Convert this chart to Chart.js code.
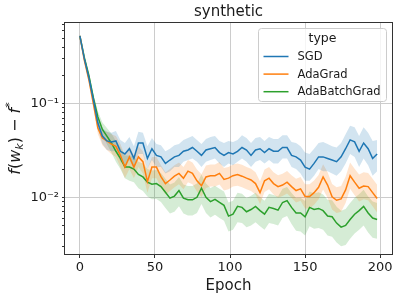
<!DOCTYPE html>
<html>
<head>
<meta charset="utf-8">
<script src="https://cdn.jsdelivr.net/npm/chart.js"></script>
<style>
  html, body { margin: 0; padding: 0; background: #fff; }
</style>
</head>
<body>
<canvas id="chart" width="399" height="299"></canvas>
<script>
const EPOCHS = [0,3,6,9,12,15,18,21,24,27,30,33,36,39,42,45,48,51,54,57,60,63,66,69,72,75,78,81,84,87,90,93,96,99,102,105,108,111,114,117,120,123,126,129,132,135,138,141,144,147,150,153,156,159,162,165,168,171,174,177,180,183,186,189,192,195,198];

const SERIES = ['SGD', 'AdaGrad', 'AdaBatchGrad'];

const SGD = [0.53,0.30,0.19,0.11,0.062,0.045,0.040,0.039,0.040,0.031,
  0.029,0.033,0.026,0.038,0.038,0.026,0.033,0.028,0.027,0.023,
  0.025,0.027,0.028,0.031,0.032,0.034,0.031,0.028,0.032,0.033,
  0.034,0.030,0.028,0.030,0.029,0.031,0.034,0.032,0.028,0.032,
  0.033,0.030,0.033,0.031,0.031,0.034,0.034,0.028,0.027,0.025,
  0.021,0.020,0.023,0.027,0.027,0.026,0.025,0.024,0.027,0.033,
  0.041,0.039,0.031,0.038,0.033,0.026,0.029];
const SGD_HI = [0.54,0.315,0.205,0.122,0.072,0.055,0.050,0.049,0.051,0.041,
  0.038,0.044,0.035,0.050,0.049,0.035,0.043,0.037,0.036,0.031,
  0.033,0.036,0.037,0.041,0.043,0.045,0.041,0.037,0.042,0.044,
  0.045,0.040,0.038,0.040,0.039,0.041,0.046,0.043,0.038,0.043,
  0.044,0.040,0.044,0.042,0.042,0.046,0.046,0.039,0.038,0.035,
  0.030,0.029,0.033,0.038,0.039,0.037,0.035,0.034,0.038,0.047,
  0.058,0.056,0.045,0.056,0.049,0.040,0.041];
const SGD_LO = [0.52,0.285,0.175,0.098,0.053,0.037,0.032,0.031,0.031,0.024,
  0.022,0.025,0.020,0.029,0.029,0.020,0.025,0.021,0.021,0.018,
  0.019,0.021,0.021,0.024,0.025,0.026,0.024,0.021,0.024,0.025,
  0.026,0.023,0.021,0.023,0.022,0.024,0.026,0.024,0.021,0.024,
  0.025,0.023,0.025,0.023,0.023,0.026,0.026,0.021,0.020,0.018,
  0.015,0.015,0.017,0.020,0.019,0.019,0.018,0.017,0.019,0.023,
  0.029,0.027,0.021,0.026,0.022,0.017,0.019];

const ADAGRAD = [0.53,0.29,0.18,0.10,0.055,0.043,0.040,0.037,0.035,0.028,
  0.021,0.027,0.021,0.027,0.024,0.0147,0.021,0.021,0.0166,0.014,
  0.0153,0.0168,0.018,0.016,0.019,0.018,0.015,0.0133,0.0165,0.017,
  0.017,0.018,0.0155,0.016,0.017,0.0175,0.0168,0.016,0.0153,0.014,
  0.0112,0.015,0.016,0.014,0.013,0.0135,0.0145,0.013,0.0118,0.0123,
  0.0102,0.0102,0.0112,0.0128,0.0165,0.0135,0.0101,0.0093,0.0096,0.012,
  0.017,0.0145,0.0125,0.0132,0.013,0.0112,0.0097];
const ADAGRAD_HI = [0.54,0.305,0.195,0.112,0.064,0.052,0.050,0.047,0.045,0.037,
  0.028,0.035,0.028,0.035,0.031,0.020,0.027,0.027,0.022,0.0185,
  0.020,0.022,0.0235,0.021,0.025,0.0235,0.0198,0.0176,0.0218,0.0224,
  0.0224,0.0238,0.0205,0.021,0.0224,0.023,0.0222,0.021,0.0202,0.0185,
  0.0148,0.0198,0.0211,0.0185,0.0172,0.0178,0.0191,0.0172,0.0158,0.0165,
  0.0138,0.0138,0.0151,0.0173,0.0225,0.0185,0.0139,0.0128,0.0132,0.0166,
  0.0235,0.0202,0.0175,0.0185,0.0182,0.0158,0.0136];
const ADAGRAD_LO = [0.52,0.275,0.166,0.089,0.047,0.036,0.032,0.029,0.027,0.021,
  0.016,0.020,0.016,0.021,0.018,0.0112,0.016,0.016,0.0127,0.0107,
  0.0117,0.0128,0.0138,0.0122,0.0145,0.0138,0.0115,0.0101,0.0126,0.013,
  0.013,0.0137,0.0118,0.0122,0.013,0.0133,0.0128,0.0122,0.0117,0.0107,
  0.0085,0.0114,0.0122,0.0107,0.0099,0.0103,0.011,0.0099,0.0088,0.0092,
  0.0076,0.0076,0.0083,0.0095,0.0121,0.0099,0.0074,0.0068,0.007,0.0087,
  0.0123,0.0105,0.009,0.0095,0.0093,0.008,0.0069];

const ADABATCH = [0.53,0.31,0.20,0.115,0.072,0.053,0.045,0.038,0.031,0.026,
  0.021,0.021,0.020,0.0175,0.0165,0.0145,0.0138,0.014,0.013,0.0113,
  0.0098,0.0103,0.0118,0.0098,0.0094,0.0094,0.010,0.0125,0.010,0.009,
  0.0095,0.0088,0.0082,0.0063,0.0066,0.008,0.0078,0.007,0.0074,0.008,
  0.0072,0.0066,0.0078,0.0076,0.0073,0.0088,0.0092,0.0078,0.0068,0.0068,
  0.0062,0.0078,0.0074,0.0076,0.0072,0.0063,0.0062,0.0053,0.0048,0.005,
  0.0058,0.0066,0.0072,0.008,0.0068,0.006,0.0058];
const ADABATCH_HI = [0.54,0.325,0.215,0.128,0.083,0.063,0.055,0.048,0.040,0.034,
  0.028,0.028,0.027,0.024,0.023,0.020,0.0193,0.0196,0.0182,0.0158,
  0.0137,0.0144,0.0165,0.0137,0.0132,0.0132,0.014,0.0175,0.014,0.0126,
  0.0133,0.0123,0.0115,0.0088,0.0092,0.0112,0.0109,0.0098,0.0104,0.0112,
  0.0101,0.0092,0.0109,0.0106,0.0102,0.0123,0.0129,0.0111,0.0098,0.0099,
  0.0091,0.0115,0.011,0.0113,0.0107,0.0094,0.0093,0.0079,0.0072,0.0075,
  0.0087,0.0099,0.0108,0.012,0.0102,0.009,0.0087];
const ADABATCH_LO = [0.52,0.295,0.185,0.103,0.062,0.045,0.037,0.030,0.024,0.020,
  0.016,0.015,0.0145,0.0125,0.0117,0.0102,0.0095,0.0096,0.0089,0.0077,
  0.0067,0.007,0.008,0.0067,0.0064,0.0064,0.0068,0.0085,0.0068,0.0061,
  0.0065,0.006,0.0056,0.0043,0.0045,0.0054,0.0053,0.0048,0.005,0.0054,
  0.0049,0.0045,0.0053,0.0052,0.005,0.006,0.0063,0.0052,0.0044,0.0043,
  0.0039,0.0049,0.0046,0.0047,0.0045,0.0039,0.0038,0.0033,0.003,0.0031,
  0.0036,0.0041,0.0045,0.005,0.0042,0.0037,0.0036];

const X_TICKS = [0, 50, 100, 150, 200];
const Y_TICKS = [0.01, 0.1];
const Y_TICK_LABELS = ['10\u207B\u00B2', '10\u207B\u00B9'];

const BLUE = '#1f77b4', ORANGE = '#ff7f0e', GREEN = '#2ca02c';
const BLUE_A = 'rgba(31,119,180,0.2)', ORANGE_A = 'rgba(255,127,14,0.2)', GREEN_A = 'rgba(44,160,44,0.2)';
const TEXT = '#1a1a1a';

Chart.defaults.font.family = "'DejaVu Sans', sans-serif";
Chart.defaults.color = TEXT;

const pts = arr => EPOCHS.map((e, i) => ({ x: e, y: arr[i] }));

const band = (hi, lo, color) => [
  { data: pts(hi), borderWidth: 0, pointRadius: 0, backgroundColor: color, fill: '+1', order: 1 },
  { data: pts(lo), borderWidth: 0, pointRadius: 0, backgroundColor: color, fill: false, order: 1 }
];
const line = (label, arr, color) => ({
  label, data: pts(arr), borderColor: color, backgroundColor: color,
  borderWidth: 1.5, pointRadius: 0, fill: false, order: 0, isLine: true
});

// minor ticks on the log axis: keep only 1..9 x 10^k
const isNice = v => {
  const m = v / Math.pow(10, Math.floor(Math.log10(v) + 1e-9));
  return Math.abs(m - Math.round(m)) < 1e-6;
};
const isMajor = v => Y_TICKS.some(t => Math.abs(t - v) / t < 1e-6);

// box around the axes
const frame = {
  id: 'frame',
  afterDraw(chart) {
    const { ctx, chartArea: a } = chart;
    ctx.save();
    ctx.strokeStyle = '#333';
    ctx.lineWidth = 1;
    ctx.strokeRect(a.left - 0.5, a.top - 0.5, a.right - a.left + 1, a.bottom - a.top + 1);
    ctx.restore();
  }
};

// y label with subscript / superscript
const yTitle = {
  id: 'yTitle',
  afterDraw(chart) {
    const { ctx, chartArea: a } = chart;
    const parts = [
      ['f', 'italic 16px', 0], ['(', '16px', 0], ['w', 'italic 16px', 0], ['k', 'italic 11px', 3],
      [')', '16px', 0], [' \u2212 ', '16px', 0], ['f', 'italic 16px', 0], ['*', '11px', -7]
    ];
    const fam = " 'DejaVu Sans', sans-serif";
    ctx.save();
    let total = 0;
    parts.forEach(p => { ctx.font = p[1] + fam; total += ctx.measureText(p[0]).width; });
    ctx.translate(15, (a.top + a.bottom) / 2);
    ctx.rotate(-Math.PI / 2);
    ctx.fillStyle = TEXT;
    ctx.textBaseline = 'alphabetic';
    let x = -total / 2;
    parts.forEach(p => {
      ctx.font = p[1] + fam;
      ctx.fillText(p[0], x, 5 + p[2]);
      x += ctx.measureText(p[0]).width;
    });
    ctx.restore();
  }
};

// legend box in the upper right corner, like matplotlib
const boxLegend = {
  id: 'boxLegend',
  afterDraw(chart) {
    const { ctx, chartArea: a } = chart;
    const w = 128, h = 73, r = 3;
    const x0 = a.right - 5.5 - w, y0 = a.top + 5.5;
    ctx.save();
    ctx.beginPath();
    ctx.roundRect(x0, y0, w, h, r);
    ctx.fillStyle = 'rgba(255,255,255,0.8)';
    ctx.fill();
    ctx.strokeStyle = '#cccccc';
    ctx.lineWidth = 1;
    ctx.stroke();
    ctx.fillStyle = TEXT;
    ctx.textBaseline = 'middle';
    ctx.textAlign = 'center';
    ctx.font = "12.5px 'DejaVu Sans', sans-serif";
    ctx.fillText('type', x0 + w / 2, y0 + 10.5);
    ctx.textAlign = 'left';
    ctx.font = "11.5px 'DejaVu Sans', sans-serif";
    chart.data.datasets.filter(d => d.isLine).forEach((d, i) => {
      const y = y0 + 28 + i * 17.6;
      ctx.strokeStyle = d.borderColor;
      ctx.lineWidth = 1.5;
      ctx.beginPath();
      ctx.moveTo(x0 + 5, y);
      ctx.lineTo(x0 + 30, y);
      ctx.stroke();
      ctx.fillText(d.label, x0 + 39, y + 0.5);
    });
    ctx.restore();
  }
};

new Chart(document.getElementById('chart'), {
  type: 'line',
  data: {
    datasets: [
      ...band(SGD_HI, SGD_LO, BLUE_A),
      ...band(ADAGRAD_HI, ADAGRAD_LO, ORANGE_A),
      ...band(ADABATCH_HI, ADABATCH_LO, GREEN_A),
      line(SERIES[0], SGD, BLUE),
      line(SERIES[1], ADAGRAD, ORANGE),
      line(SERIES[2], ADABATCH, GREEN)
    ]
  },
  options: {
    responsive: false,
    animation: false,
    devicePixelRatio: 1,
    layout: { padding: { left: 0, right: 7, top: 0, bottom: 0 } },
    elements: { line: { tension: 0 } },
    plugins: {
      legend: { display: false },
      tooltip: { enabled: false },
      title: {
        display: true, text: 'synthetic', fullSize: false, color: TEXT,
        font: { size: 15, weight: 'normal' }, padding: { top: 3, bottom: 2 }
      }
    },
    scales: {
      x: {
        type: 'linear', min: -9.9, max: 207.9,
        afterBuildTicks: s => { s.ticks = X_TICKS.map(v => ({ value: v })); },
        afterFit: s => { s.height = 45; },
        ticks: { font: { size: 13 }, color: TEXT, padding: 2, autoSkip: false, maxRotation: 0 },
        grid: { color: '#cccccc', lineWidth: 1, tickColor: '#333', tickLength: 4 },
        border: { display: false },
        title: { display: true, text: 'Epoch', color: TEXT, font: { size: 15 }, padding: { top: 0, bottom: 4 } }
      },
      y: {
        type: 'logarithmic', min: 0.00248, max: 0.726,
        afterBuildTicks: s => { s.ticks = s.ticks.filter(t => isNice(t.value)); },
        afterFit: s => { s.width = 65; },
        ticks: {
          font: { size: 13 }, color: TEXT, padding: 3, autoSkip: false,
          callback: v => { const i = Y_TICKS.findIndex(t => Math.abs(t - v) / t < 1e-6); return i >= 0 ? Y_TICK_LABELS[i] : ''; }
        },
        grid: {
          color: c => (c.tick && isMajor(c.tick.value)) ? '#cccccc' : 'rgba(0,0,0,0)',
          tickColor: '#333', tickLength: 3, lineWidth: 1
        },
        border: { display: false }
      }
    }
  },
  plugins: [frame, yTitle, boxLegend]
});
</script>
</body>
</html>
